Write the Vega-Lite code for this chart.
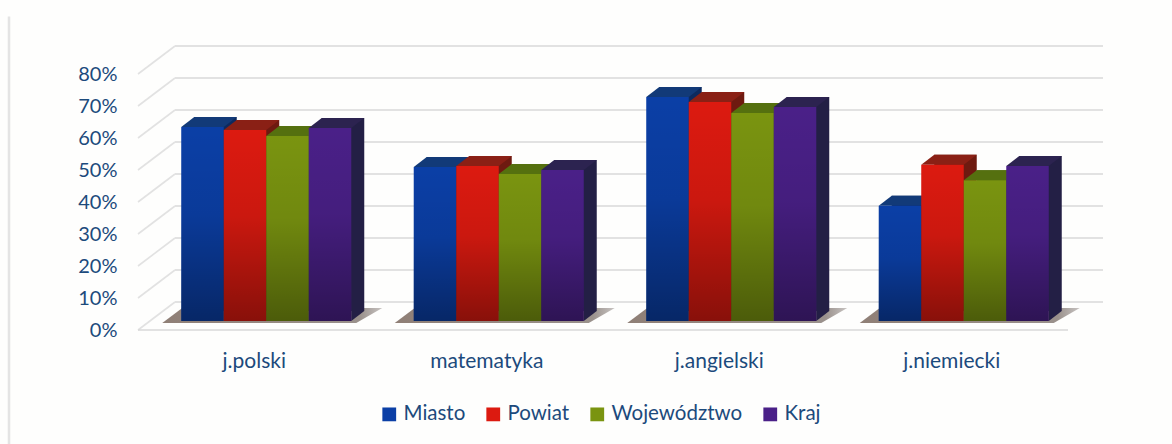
{
"$schema":"https://vega.github.io/schema/vega-lite/v6.json",
"width":930,"height":256,
"autosize":{"type":"none"},
"padding":{"left":138,"top":74,"right":104,"bottom":114},
"background":"#fefefd",
"config":{"view":{"stroke":null},"font":"Lato"},
"datasets":{
"bars":[
{"s":"j.polski","k":"Miasto","v":0.606},{"s":"j.polski","k":"Powiat","v":0.597},{"s":"j.polski","k":"Województwo","v":0.578},{"s":"j.polski","k":"Kraj","v":0.603},
{"s":"matematyka","k":"Miasto","v":0.481},{"s":"matematyka","k":"Powiat","v":0.484},{"s":"matematyka","k":"Województwo","v":0.459},{"s":"matematyka","k":"Kraj","v":0.472},
{"s":"j.angielski","k":"Miasto","v":0.70},{"s":"j.angielski","k":"Powiat","v":0.684},{"s":"j.angielski","k":"Województwo","v":0.65},{"s":"j.angielski","k":"Kraj","v":0.669},
{"s":"j.niemiecki","k":"Miasto","v":0.36},{"s":"j.niemiecki","k":"Powiat","v":0.488},{"s":"j.niemiecki","k":"Województwo","v":0.44},{"s":"j.niemiecki","k":"Kraj","v":0.484}],
"ticks":[{"t":0},{"t":0.1},{"t":0.2},{"t":0.3},{"t":0.4},{"t":0.5},{"t":0.6},{"t":0.7},{"t":0.8}],
"cats":[{"s":"j.polski"},{"s":"matematyka"},{"s":"j.angielski"},{"s":"j.niemiecki"}]
},
"data":{"name":"bars"},
"encoding":{"y":{"type":"quantitative","scale":{"domain":[0,0.8]},"axis":{"values":[0,0.1,0.2,0.3,0.4,0.5,0.6,0.7,0.8],"format":".0%","title":null,"domain":false,"ticks":false,"grid":false,"labelOverlap":false,"labelFontSize":20,"labelColor":"#1c4a7c","labelPadding":21,"labelFont":"Lato"}}},
"layer":[
{"data":{"values":[{"a":-0.36,"b":0.98}]},"mark":{"type":"rule","color":"#e4e4e4","strokeWidth":2.5},
 "encoding":{"x":{"datum":0,"type":"quantitative","scale":{"domain":[0,1],"range":[-129,0]},"axis":null},"y":{"field":"a"},"y2":{"field":"b"}}},
{"data":{"name":"ticks"},"mark":{"type":"rule","color":"#d8d8d8","strokeWidth":1.6,"yOffset":-28,"y2Offset":-28},
 "encoding":{"x":{"datum":0,"type":"quantitative","scale":{"domain":[0,1],"range":[37,965]},"axis":null},"x2":{"datum":1},"y":{"field":"t"},"y2":{"field":"t"}}},
{"data":{"name":"ticks"},"mark":{"type":"rule","color":"#e2e2e2","strokeWidth":1.6,"y2Offset":-28},
 "encoding":{"x":{"datum":0,"type":"quantitative","scale":{"domain":[0,1],"range":[0,37]},"axis":null},"x2":{"datum":1},"y":{"field":"t"},"y2":{"field":"t"}}},
{"data":{"values":[{"t":0}]},"mark":{"type":"rule","color":"#d8d8d8","strokeWidth":1.6},
 "encoding":{"x":{"datum":0,"type":"quantitative","scale":{"domain":[0,1],"range":[0,930]},"axis":null},"x2":{"datum":1},"y":{"field":"t"}}},
{"data":{"name":"cats"},"mark":{"type":"point","filled":true,"opacity":1,"size":4,"xOffset":12,"fill":{"x1":0,"y1":0,"x2":1,"y2":0,"gradient":"linear","stops":[{"offset":0,"color":"#8f7f76"},{"offset":0.9,"color":"#9a918c"},{"offset":1,"color":"#c8c4c2"}]},"shape":"M-104,-7 L-84,-22 L116,-22 L90,-7 Z"},
 "encoding":{"x":{"field":"s","type":"nominal","scale":{"type":"band","paddingInner":0,"paddingOuter":0},"sort":["j.polski","matematyka","j.angielski","j.niemiecki"],"axis":null},"y":{"datum":0}}},
{"mark":{"type":"bar","yOffset":-19,"y2Offset":-19},
 "encoding":{"x":{"field":"s","type":"nominal","scale":{"type":"band","paddingInner":0,"paddingOuter":0},"sort":["j.polski","matematyka","j.angielski","j.niemiecki"],"axis":null},"xOffset":{"field":"k","sort":["Miasto","Powiat","Województwo","Kraj"],"scale":{"type":"band","paddingInner":0,"paddingOuter":0.735,"align":0.9}},"y":{"field":"v"},"y2":{"datum":0},"fill":{"field":"k","type":"nominal","legend":null,"scale":{"domain":["Miasto","Powiat","Województwo","Kraj"],"range":["#0d2a5e","#6e1a10","#4a5f10","#231f45"]}}}},
{"mark":{"type":"point","filled":true,"opacity":1,"size":4,"yOffset":-9,"shape":"M-21.25,0 L-8.25,-10 L34.25,-10 L21.25,0 Z"},
 "encoding":{"x":{"field":"s","type":"nominal","scale":{"type":"band","paddingInner":0,"paddingOuter":0},"sort":["j.polski","matematyka","j.angielski","j.niemiecki"],"axis":null},"xOffset":{"field":"k","sort":["Miasto","Powiat","Województwo","Kraj"],"scale":{"type":"band","paddingInner":0,"paddingOuter":0.735,"align":0.692}},"y":{"field":"v"},"fill":{"field":"k","type":"nominal","legend":null,"scale":{"domain":["Miasto","Powiat","Województwo","Kraj"],"range":["#123a78","#8a2015","#55700f","#2c2350"]}}}},
{"mark":{"type":"point","filled":true,"opacity":1,"size":4,"yOffset":-9,"shape":"M21.25,0 L21.25,-10 L34.25,-10 Z"},
 "encoding":{"x":{"field":"s","type":"nominal","scale":{"type":"band","paddingInner":0,"paddingOuter":0},"sort":["j.polski","matematyka","j.angielski","j.niemiecki"],"axis":null},"xOffset":{"field":"k","sort":["Miasto","Powiat","Województwo","Kraj"],"scale":{"type":"band","paddingInner":0,"paddingOuter":0.735,"align":0.692}},"y":{"datum":0},"fill":{"field":"k","type":"nominal","legend":null,"scale":{"domain":["Miasto","Powiat","Województwo","Kraj"],"range":["#0d2a5e","#6e1a10","#4a5f10","#231f45"]}}}},
{"mark":{"type":"bar","yOffset":-9,"y2Offset":-9},
 "encoding":{"x":{"field":"s","type":"nominal","scale":{"type":"band","paddingInner":0,"paddingOuter":0},"sort":["j.polski","matematyka","j.angielski","j.niemiecki"],"axis":{"title":null,"domain":false,"ticks":false,"labelAngle":0,"labelFontSize":21,"labelColor":"#1c4a7c","labelPadding":20,"labelFont":"Lato"}},"xOffset":{"field":"k","sort":["Miasto","Powiat","Województwo","Kraj"],"scale":{"type":"band","paddingInner":0,"paddingOuter":0.735,"align":0.692}},"y":{"field":"v"},"y2":{"datum":0},
 "color":{"field":"k","type":"nominal","title":null,"scale":{"domain":["Miasto","Powiat","Województwo","Kraj"],"range":["#0b3fa6","#dc1a10","#7a9410","#4a2088"]},
 "legend":{"orient":"none","legendX":241,"legendY":330,"direction":"horizontal","columns":4,"symbolType":"square","symbolSize":190,"symbolOpacity":1,"labelFontSize":20.5,"labelColor":"#1c4a7c","labelFont":"Lato","columnPadding":17,"symbolStrokeWidth":0,"labelOffset":4}}}},
{"mark":{"type":"bar","yOffset":-9,"y2Offset":-9,"fill":{"x1":0,"y1":0,"x2":0,"y2":1,"gradient":"linear","stops":[{"offset":0,"color":"rgba(0,0,0,0)"},{"offset":0.45,"color":"rgba(0,0,0,0.08)"},{"offset":1,"color":"rgba(0,0,0,0.38)"}]}},
 "encoding":{"x":{"field":"s","type":"nominal","scale":{"type":"band","paddingInner":0,"paddingOuter":0},"sort":["j.polski","matematyka","j.angielski","j.niemiecki"],"axis":null},"xOffset":{"field":"k","sort":["Miasto","Powiat","Województwo","Kraj"],"scale":{"type":"band","paddingInner":0,"paddingOuter":0.735,"align":0.692}},"y":{"field":"v"},"y2":{"datum":0}}}
],
"resolve":{"scale":{"x":"independent","xOffset":"independent","fill":"independent"},"axis":{"x":"independent"}}
}
